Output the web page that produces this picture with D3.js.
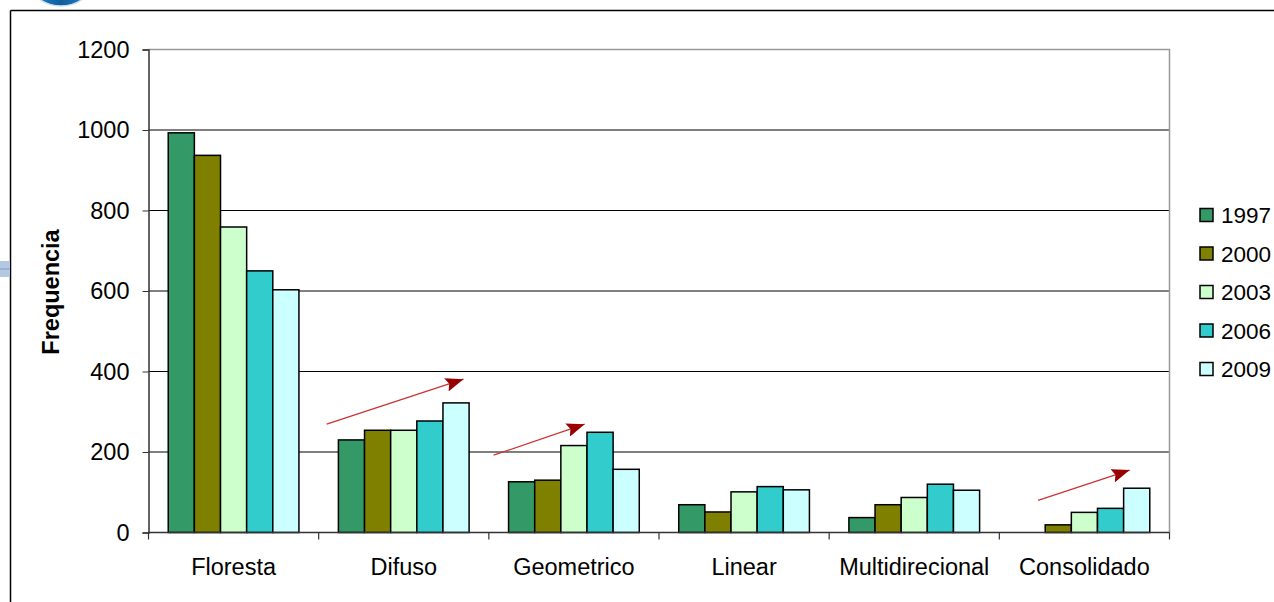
<!DOCTYPE html>
<html><head><meta charset="utf-8">
<script src="https://cdn.jsdelivr.net/npm/d3@7/dist/d3.min.js"></script>
<style>
html,body{margin:0;padding:0;background:#fff;}
svg{display:block;font-family:"Liberation Sans",Arial,sans-serif;}
</style></head>
<body>
<svg id="c" width="1274" height="602"></svg>
<script>
const categories = ["Floresta","Difuso","Geometrico","Linear","Multidirecional","Consolidado"];
const series = ["1997","2000","2003","2006","2009"];
const colors = ["#339966","#808000","#CCFFCC","#33CCCC","#CCFFFF"];
const v1997 = [993, 230, 126, 69, 37, 0];
const v2000 = [937, 254, 130, 51, 69, 19];
const v2003 = [759, 254, 216, 101, 87, 50];
const v2006 = [650, 277, 249, 114, 120, 60];
const v2009 = [603, 322, 157, 106, 105, 110];
const seriesValues = [v1997, v2000, v2003, v2006, v2009];
const yTicks = [0, 200, 400, 600, 800, 1000, 1200];
const yLabel = "Frequencia";
// trend arrows: category, start fraction within group, start value, end fraction, end value
const arrows = [
  {cat:"Difuso", f0:0.047, v0:269, f1:0.851, v1:381},
  {cat:"Geometrico", f0:0.028, v0:192, f1:0.563, v1:269},
  {cat:"Consolidado", f0:0.228, v0:80, f1:0.766, v1:155}
];

const svg = d3.select("#c");
const L = 148.5, R = 1169.5, T = 49.5, B = 532.5;
const x = d3.scaleBand().domain(categories).range([L, R]).paddingInner(0).paddingOuter(0);
const x1 = d3.scaleBand().domain(series).range([0, x.bandwidth()]).paddingInner(0).paddingOuter(0.755);
const y = d3.scaleLinear().domain([0, 1200]).range([B, T]);

// outer frame
svg.append("line").attr("x1",10.5).attr("x2",1274).attr("y1",10.5).attr("y2",10.5).attr("stroke","#000").attr("stroke-width",1.5);
svg.append("line").attr("x1",10.5).attr("x2",10.5).attr("y1",10.5).attr("y2",602).attr("stroke","#000").attr("stroke-width",1.5);
// logo fragment
const defs = svg.append("defs");
const lg = defs.append("linearGradient").attr("id","lg").attr("x1","0").attr("x2","1").attr("y1","0").attr("y2","0");
lg.append("stop").attr("offset","0").attr("stop-color","#2a86c8");
lg.append("stop").attr("offset","0.5").attr("stop-color","#0f5fa0");
lg.append("stop").attr("offset","1").attr("stop-color","#2a86c8");
svg.append("ellipse").attr("cx",61).attr("cy",-22).attr("rx",33).attr("ry",28).attr("fill","url(#lg)").attr("stroke","#cfe0ef").attr("stroke-width",1.5);
// left side marker
svg.append("rect").attr("x",0).attr("y",261).attr("width",10).attr("height",16).attr("fill","#b4c8e2");
svg.append("line").attr("x1",0).attr("x2",10).attr("y1",269).attr("y2",269).attr("stroke","#7f9dc6").attr("stroke-width",1);

// gridlines
svg.append("g").selectAll("line").data(yTicks.filter(t => t > 0 && t < 1200)).join("line")
  .attr("x1", L).attr("x2", R).attr("y1", d => y(d)).attr("y2", d => y(d))
  .attr("stroke", "#000").attr("stroke-width", 1);
// plot border top/right
svg.append("path").attr("d", `M${L},${y(1200)}H${R}V${B}`).attr("fill","none").attr("stroke","#999").attr("stroke-width",1.5);

// bars
const g = svg.append("g");
series.forEach((s, si) => {
  g.append("g").selectAll("rect").data(categories.map((c, ci) => ({c, v: seriesValues[si][ci]})).filter(d => d.v > 0)).join("rect")
    .attr("x", d => x(d.c) + x1(s))
    .attr("y", d => y(d.v))
    .attr("width", x1.bandwidth())
    .attr("height", d => y(0) - y(d.v))
    .attr("fill", colors[si])
    .attr("stroke", "#000").attr("stroke-width", 1.5);
});

// y axis
const ya = svg.append("g").attr("transform", `translate(${L},0)`)
  .call(d3.axisLeft(y).tickValues(yTicks).tickSize(6).tickPadding(13).tickFormat(d3.format("d")));
ya.select(".domain").attr("stroke","#333").attr("stroke-width",1.5);
ya.selectAll(".tick line").attr("stroke","#333");
ya.selectAll("text").attr("font-size","23.5px").attr("fill","#000").attr("font-family","Liberation Sans, Arial, sans-serif");

// x axis
const boundaries = categories.map(c => x(c)).concat([R]);
svg.append("line").attr("x1", L).attr("x2", R).attr("y1", B).attr("y2", B).attr("stroke","#333").attr("stroke-width",1.5);
svg.append("g").selectAll("line").data(boundaries).join("line")
  .attr("x1", d => d).attr("x2", d => d).attr("y1", B).attr("y2", B + 7).attr("stroke","#333").attr("stroke-width",1.2);
svg.append("g").selectAll("text").data(categories).join("text")
  .attr("x", d => x(d) + x.bandwidth()/2).attr("y", 575)
  .attr("text-anchor","middle").attr("font-size","23.5px").attr("fill","#000").text(d => d);

// y label
svg.append("text").attr("transform","translate(59,292) rotate(-90)").attr("text-anchor","middle")
  .attr("font-size","23.5px").attr("font-weight","bold").attr("fill","#000").text(yLabel);

// arrows
defs.append("marker").attr("id","ah").attr("viewBox","0 0 18 14").attr("refX",18).attr("refY",7)
  .attr("markerWidth",18).attr("markerHeight",14).attr("markerUnits","userSpaceOnUse").attr("orient","auto")
  .append("path").attr("d","M0,0L18,7L0,14L3,7Z").attr("fill","#990000");
svg.append("g").selectAll("line").data(arrows).join("line")
  .attr("x1", d => x(d.cat) + d.f0 * x.bandwidth()).attr("y1", d => y(d.v0))
  .attr("x2", d => x(d.cat) + d.f1 * x.bandwidth()).attr("y2", d => y(d.v1))
  .attr("stroke","#cc3333").attr("stroke-width",1.3).attr("marker-end","url(#ah)");

// legend
const lgd = svg.append("g");
series.forEach((s, i) => {
  const cy = 215 + i * 38.5;
  lgd.append("rect").attr("x",1200).attr("y",cy-6.5).attr("width",13).attr("height",13)
    .attr("fill",colors[i]).attr("stroke","#000").attr("stroke-width",1.5);
  lgd.append("text").attr("x",1221).attr("y",cy+8).attr("font-size","22.5px").attr("fill","#000").text(s);
});
</script>
</body></html>
